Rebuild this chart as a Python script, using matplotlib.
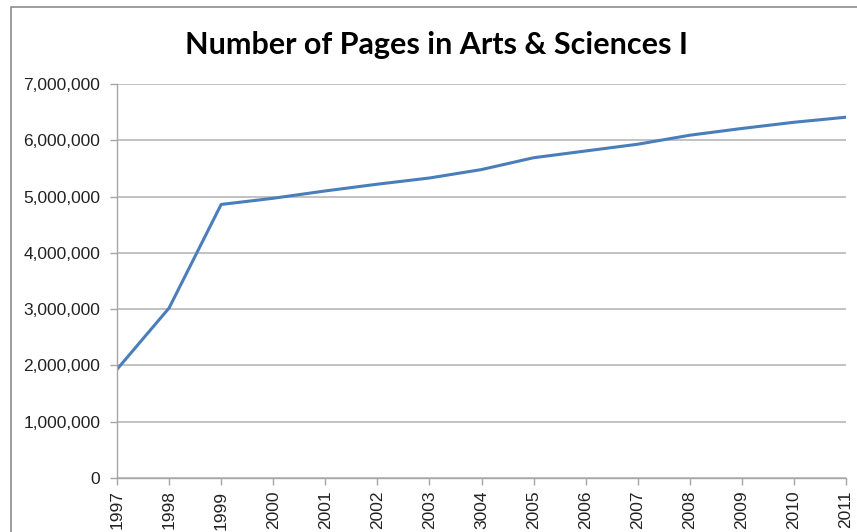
import matplotlib.pyplot as plt
from matplotlib.patches import Rectangle
from matplotlib.ticker import FuncFormatter

years = list(range(1997, 2012))
year_labels = ['1997', '1998', '1999', '2000', '2001', '2002', '2003', '3004',
               '2005', '2006', '2007', '2008', '2009', '2010', '2011']
pages = [1930000, 3020000, 4860000, 4970000, 5100000, 5220000, 5330000, 5480000,
         5690000, 5810000, 5930000, 6090000, 6210000, 6320000, 6410000]

fig = plt.figure(figsize=(8.57, 5.32), dpi=100)
ax = fig.add_axes([117 / 857, 54 / 532, (846 - 117) / 857, (478 - 84) / 532])

# outer chart frame (right and bottom run off the picture)
fig.patches.append(Rectangle((11 / 857, -0.1), 1.2, 1 - 7 / 532 + 0.1,
                             transform=fig.transFigure, fill=False,
                             edgecolor='#8c8c8c', linewidth=1.2))

ax.plot(years, pages, color='#4a7ebb', linewidth=2.2, solid_capstyle='round')

ax.set_xlim(1997, 2011)
ax.set_ylim(0, 7000000)
ax.set_yticks(range(0, 7000001, 1000000))
ax.yaxis.set_major_formatter(FuncFormatter(lambda v, p: f'{int(v):,}'))
ax.set_xticks(years)
ax.set_xticklabels(year_labels, rotation=90)

ax.grid(axis='y', color='#bdbdbd', linewidth=1.3)
ax.set_axisbelow(True)
for side in ['top', 'right']:
    ax.spines[side].set_visible(False)
for side in ['left', 'bottom']:
    ax.spines[side].set_color('#a6a6a6')
    ax.spines[side].set_linewidth(1.0)
ax.tick_params(axis='both', color='#a6a6a6', length=5, width=1.0,
               labelsize=12.5, labelcolor='#222222')
ax.tick_params(axis='y', pad=7)
ax.tick_params(axis='x', pad=4)
for lbl in ax.get_xticklabels() + ax.get_yticklabels():
    lbl.set_family('Liberation Sans')

fig.text(437 / 857, 1 - 45 / 532, 'Number of Pages in Arts & Sciences I',
         ha='center', va='center', fontsize=22, fontweight='bold',
         family='Lato')

fig.savefig('out.png', dpi=100)
